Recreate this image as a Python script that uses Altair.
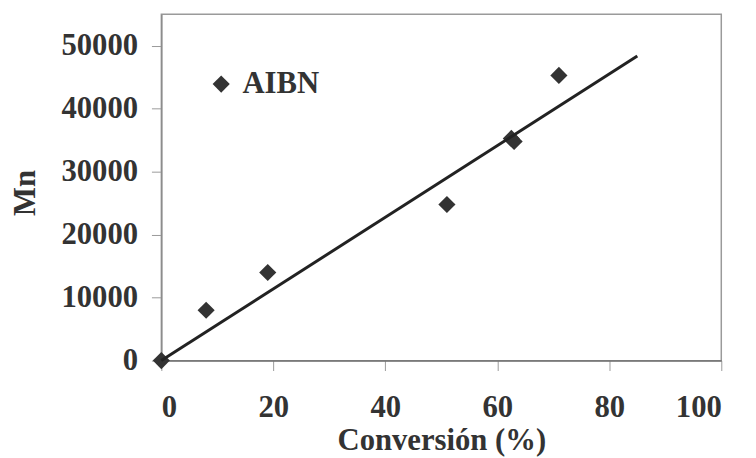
import altair as alt
import pandas as pd

# Data
conv = [0, 8, 19, 51, 62.5, 63, 71]
mn = [0, 8000, 14000, 24800, 35300, 34800, 45300]
series = ["AIBN"] * len(conv)

fit_x = [0, 85]
fit_y = [0, 48400]

x_ticks = [0, 20, 40, 60, 80, 100]
y_ticks = [0, 10000, 20000, 30000, 40000, 50000]

pts = pd.DataFrame({"conv": conv, "mn": mn, "serie": series})
fit = pd.DataFrame({"conv": fit_x, "mn": fit_y})

FONT = "Liberation Serif"
TXT = "#333333"
FS = 31

xscale = alt.Scale(domain=[0, 100], nice=False, zero=False)
yscale = alt.Scale(domain=[0, 55000], nice=False, zero=False)

xaxis = alt.Axis(
    title="Conversión (%)", values=x_ticks, grid=False,
    labelFont=FONT, labelFontSize=FS, labelFontWeight="bold", labelColor=TXT,
    labelPadding=22, tickSize=10, tickColor="#9a9a9a", domainColor="#6f6f6f",
    domainWidth=1.5,
    titleFont=FONT, titleFontSize=FS, titleFontWeight="bold", titleColor=TXT,
    titleX=283, titleY=81, titleAnchor="middle", titleBaseline="middle", titleAlign="center",
)
yaxis = alt.Axis(
    title="Mn", values=y_ticks, grid=False, format="d",
    labelFont=FONT, labelFontSize=FS, labelFontWeight="bold", labelColor=TXT,
    labelPadding=14, tickSize=10, tickColor="#9a9a9a", domainColor="#8a8a8a",
    domainWidth=1.5,
    titleFont=FONT, titleFontSize=FS, titleFontWeight="bold", titleColor=TXT,
    titleX=-137, titleY=180, titleAngle=270, titleAlign="center", titleBaseline="middle",
)

line = alt.Chart(fit).mark_line(color="#222222", strokeWidth=3).encode(
    x=alt.X("conv:Q", scale=xscale, axis=xaxis),
    y=alt.Y("mn:Q", scale=yscale, axis=yaxis),
)

points = alt.Chart(pts).mark_point(filled=True, size=300, opacity=1, color="#333333").encode(
    x=alt.X("conv:Q", scale=xscale),
    y=alt.Y("mn:Q", scale=yscale),
    shape=alt.Shape("serie:N", scale=alt.Scale(range=["diamond"]),
                    legend=alt.Legend(title=None, orient="none", legendX=45, legendY=55,
                                      labelFont=FONT, labelFontSize=FS, labelFontWeight="bold",
                                      labelColor=TXT, symbolSize=300, symbolFillColor="#333333",
                                      symbolStrokeColor="#333333",
                                      labelOffset=6)),
)

chart = alt.layer(points, line).properties(
    width=566, height=350,
    autosize=alt.AutoSizeParams(type="none"),
    padding={"left": 155, "top": 4, "right": 27, "bottom": 96},
    background="white",
).configure_view(stroke="#9a9a9a", strokeWidth=1.5)

chart.save("out.html", embed_options={"renderer": "svg", "actions": False})
